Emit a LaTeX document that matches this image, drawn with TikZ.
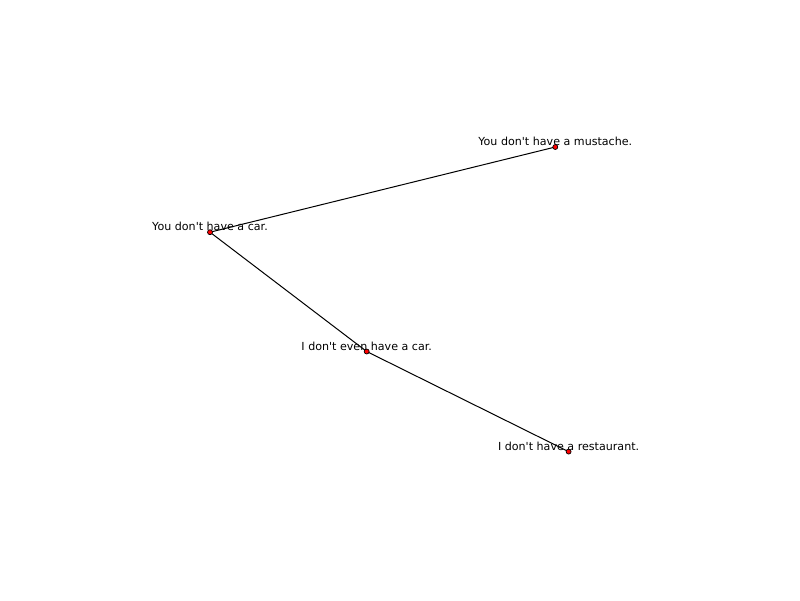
\documentclass[tikz,border=0pt]{standalone}
\usepackage{fontspec}
\setmainfont{DejaVu Sans}[Ligatures=ResetAll]
\usetikzlibrary{backgrounds}
\newcommand{\apo}{\textquotesingle}
\begin{document}
\begin{tikzpicture}[x=1pt,y=-1pt,
  dot/.style={circle,draw=black,fill=red,line width=0.7pt,inner sep=0pt,minimum size=5pt},
  edge/.style={draw=black,line width=1pt},
  lbl/.style={anchor=base,inner sep=0pt,font=\fontsize{11.1}{13}\selectfont}]
\useasboundingbox (0,0) rectangle (800,600);
\node[dot] (a) at (555.3,147) {};
\node[dot] (b) at (210,232.2) {};
\node[dot] (c) at (366.7,351.5) {};
\node[dot] (d) at (568.6,451.6) {};
\begin{scope}[on background layer]
\draw[edge] (a.center) -- (b.center);
\draw[edge] (b.center) -- (c.center);
\draw[edge] (c.center) -- (d.center);
\end{scope}
\node[lbl] (la) at (555.3,145.5) {You don\apo t have a mustache.};
\node[lbl] (lb) at (210,230.7) {You don\apo t have a car.};
\node[lbl] (lc) at (366.7,350) {I don\apo t even have a car.};
\node[lbl] (ld) at (568.6,450.1) {I don\apo t have a restaurant.};
\end{tikzpicture}
\end{document}
